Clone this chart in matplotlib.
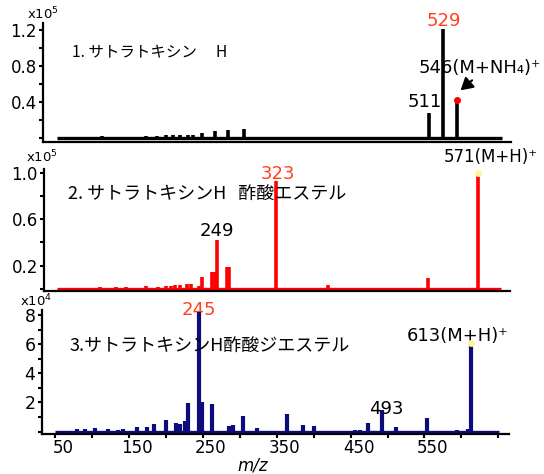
import matplotlib
matplotlib.use('Agg')
import matplotlib.pyplot as plt
from matplotlib.transforms import offset_copy, ScaledTranslation

W, H = 544, 474
fig = plt.figure(figsize=(W / 100, H / 100), dpi=100)
plt.rcParams['font.family'] = ['DejaVu Sans', 'Noto Sans CJK JP']
plt.rcParams['mathtext.fontset'] = 'dejavusans'

# ---------------- data ----------------
# Panel 1: Satratoxin H  (intensity x1e5)
p1_mz = [107, 161, 175, 186, 195, 203, 213, 220, 230, 247, 263, 282, 511, 529, 546]
p1_int = [0.026, 0.026, 0.03, 0.037, 0.033, 0.033, 0.04, 0.037, 0.062, 0.081, 0.092, 0.106,
          0.275, 1.21, 0.42]
p1_range = (51, 601)
p1_title = "1. サトラトキシン　 H"

# Panel 2: Satratoxin H acetate (intensity x1e5)
p2_mz = [106, 125, 138, 162, 177, 187, 193, 198, 204, 213, 218, 227, 231, 244, 247, 250,
         262, 264, 291, 306, 323, 386, 492, 510, 551, 571]
p2_int = [0.015, 0.015, 0.012, 0.02, 0.015, 0.02, 0.025, 0.03, 0.03, 0.045, 0.045, 0.02,
          0.105, 0.14, 0.14, 0.42, 0.19, 0.19, 0.01, 0.01, 0.93, 0.03, 0.01, 0.095, 0.01, 1.0]
p2_range = (53, 600)
p2_title = "2. サトラトキシンH   酢酸エステル"

# Panel 3: Satratoxin H diacetate (intensity x1e4)
p3_mz = [79, 90, 104, 122, 135, 142, 160, 174, 184, 200, 214, 219, 226, 230, 245, 249, 262,
         285, 291, 304, 323, 364, 386, 401, 428, 449, 456, 463, 474, 493, 511, 521, 535, 553,
         594, 609, 613]
p3_int = [0.15, 0.15, 0.28, 0.2, 0.12, 0.2, 0.3, 0.3, 0.5, 0.8, 0.6, 0.5, 0.7, 1.97, 8.2,
          2.02, 1.87, 0.38, 0.48, 1.07, 0.28, 1.22, 0.45, 0.38, 0.08, 0.08, 0.1, 0.1, 0.62,
          1.48, 0.3, 0.08, 0.08, 0.95, 0.1, 0.2, 6.05]
p3_range = (50, 651)
p3_title = "3.サトラトキシンH酢酸ジエステル"

x_major = [50, 150, 250, 350, 450, 550]
x_major_labels = ["50", "150", "250", "350", "450", "550"]
x_minor = [100, 200, 300, 400, 500, 600, 650]

RED_TXT = '#ff4020'
NAVY = '#0c0c7c'
CJK = ['Noto Sans CJK JP', 'DejaVu Sans']


def make_ax(l, r, t, b):
    return fig.add_axes([l / W, 1 - b / H, (r - l) / W, (b - t) / H])


def style(ax, color, mz, inten, rng, xlim, ylim, lw):
    ax.hlines(0, rng[0], rng[1], color=color, lw=2.4)
    ax.vlines(mz, 0, inten, color=color, lw=lw)
    ax.set_xlim(*xlim)
    ax.set_ylim(*ylim)
    for s in ('top', 'right'):
        ax.spines[s].set_visible(False)
    for s in ('left', 'bottom'):
        ax.spines[s].set_linewidth(1.6)
    ax.tick_params(axis='both', which='both', direction='out', length=3, width=1.5,
                   labelsize=12, pad=1.5)
    ax.patch.set_alpha(0)


def pxtext(x, y, s, **kw):
    fig.text(x / W, 1 - y / H, s, **kw)


# ---------------- panel 1 ----------------
ax1 = make_ax(43.3, 511.3, 23.3, 141.7)
style(ax1, 'black', p1_mz, p1_int, p1_range, (34.4, 613), (-0.037, 1.27), 2.6)
ax1.set_xticks([])
ax1.set_yticks([0.4, 0.8, 1.2])
ax1.set_yticklabels(["0.4", "0.8", "1.2"])
ax1.set_yticks([0, 0.2, 0.6, 1.0], minor=True)
pxtext(26.7, 14, "x10$^5$", fontsize=9.5, ha='left', va='center')
pxtext(71.7, 51.7, p1_title, fontsize=11.2, ha='left', va='center', family=CJK)
i529 = p1_mz.index(529)
i511 = p1_mz.index(511)
i546 = p1_mz.index(546)
ax1.annotate("529", xy=(529, p1_int[i529]), xytext=(0, 5.5), textcoords='offset points',
             ha='center', va='center', color=RED_TXT, fontsize=13)
ax1.annotate("511", xy=(511, p1_int[i511]), xytext=(-3, 8.4), textcoords='offset points',
             ha='center', va='center', fontsize=13)
ax1.annotate("546(M+NH₄)⁺", xy=(546, p1_int[i546]), xytext=(-27.6, 23),
             textcoords='offset points', ha='left', va='center', fontsize=13)
ax1.plot([546], [p1_int[i546]], 'o', color='red', ms=4, zorder=5)
ax1.annotate("", xy=(546, p1_int[i546]),
             xycoords=offset_copy(ax1.transData, fig=fig, x=3.5, y=10, units='dots'),
             xytext=(546, p1_int[i546]),
             textcoords=offset_copy(ax1.transData, fig=fig, x=15, y=20, units='dots'),
             arrowprops=dict(arrowstyle='-|>,head_length=0.6,head_width=0.35', color='black',
                             lw=1.5, shrinkA=0, shrinkB=0, mutation_scale=12))

# ---------------- panel 2 ----------------
ax2 = make_ax(44.1, 510, 169.1, 290.5)
style(ax2, '#ff0000', p2_mz, p2_int, p2_range, (36.7, 610.7), (-0.015, 1.03), 2.6)
ax2.set_xticks([])
ax2.set_yticks([0.2, 0.6, 1.0])
ax2.set_yticklabels(["0.2", "0.6", "1.0"])
ax2.set_yticks([0, 0.4, 0.8], minor=True)
pxtext(26, 157, "x10$^5$", fontsize=9.5, ha='left', va='center')
pxtext(67.7, 193.4, p2_title, fontsize=13, ha='left', va='center', family=CJK)
i323 = p2_mz.index(323)
i249 = p2_mz.index(250)
i571 = p2_mz.index(571)
ax2.annotate("323", xy=(323, p2_int[i323]), xytext=(0.7, 5), textcoords='offset points',
             ha='center', va='center', color=RED_TXT, fontsize=13)
ax2.annotate("249", xy=(250, p2_int[i249]), xytext=(0, 6.5), textcoords='offset points',
             ha='center', va='center', fontsize=13)
ax2.annotate("571(M+H)⁺", xy=(571, p2_int[i571]), xytext=(-24.3, 11.2),
             textcoords='offset points', ha='left', va='center', fontsize=12,
             annotation_clip=False)
ax2.plot([571], [p2_int[i571]], 'o', color='#fff59a', ms=4, zorder=5, clip_on=False)

# ---------------- panel 3 ----------------
ax3 = make_ax(41.7, 509, 310, 434.3)
style(ax3, NAVY, p3_mz, p3_int, p3_range, (31.6, 664.5), (-0.18, 8.34), 3.0)
ax3.set_yticks([2, 4, 6, 8])
ax3.set_yticklabels(["2", "4", "6", "8"])
ax3.set_yticks([0, 1, 3, 5, 7], minor=True)
ax3.set_xticks(x_major)
ax3.set_xticklabels(x_major_labels)
ax3.set_xticks(x_minor, minor=True)
ax3.tick_params(axis='x', which='both', pad=0.5)
ax3.tick_params(axis='y', labelsize=12.5)
shift = ScaledTranslation(8 / 100, 0, fig.dpi_scale_trans)
for lab in ax3.get_xticklabels():
    lab.set_transform(lab.get_transform() + shift)
pxtext(20, 301, "x10$^4$", fontsize=9.5, ha='left', va='center')
pxtext(69.4, 345.5, p3_title, fontsize=13, ha='left', va='center', family=CJK)
i245 = p3_mz.index(245)
i613 = p3_mz.index(613)
i493 = p3_mz.index(493)
ax3.annotate("245", xy=(245, p3_int[i245]), xytext=(0, 1.5), textcoords='offset points',
             ha='center', va='center', color=RED_TXT, fontsize=13, zorder=1)
ax3.annotate("613(M+H)⁺", xy=(613, p3_int[i613]), xytext=(-46.3, 5.5),
             textcoords='offset points', ha='left', va='center', fontsize=13)
ax3.annotate("493", xy=(493, p3_int[i493]), xytext=(3, 0.5), textcoords='offset points',
             ha='center', va='center', fontsize=13)
ax3.plot([613], [p3_int[i613]], 'o', color='#fff59a', ms=4, zorder=5)
pxtext(253, 465, "m/z", fontsize=12, style='italic', ha='center', va='center')

fig.savefig('out.png', dpi=100)
